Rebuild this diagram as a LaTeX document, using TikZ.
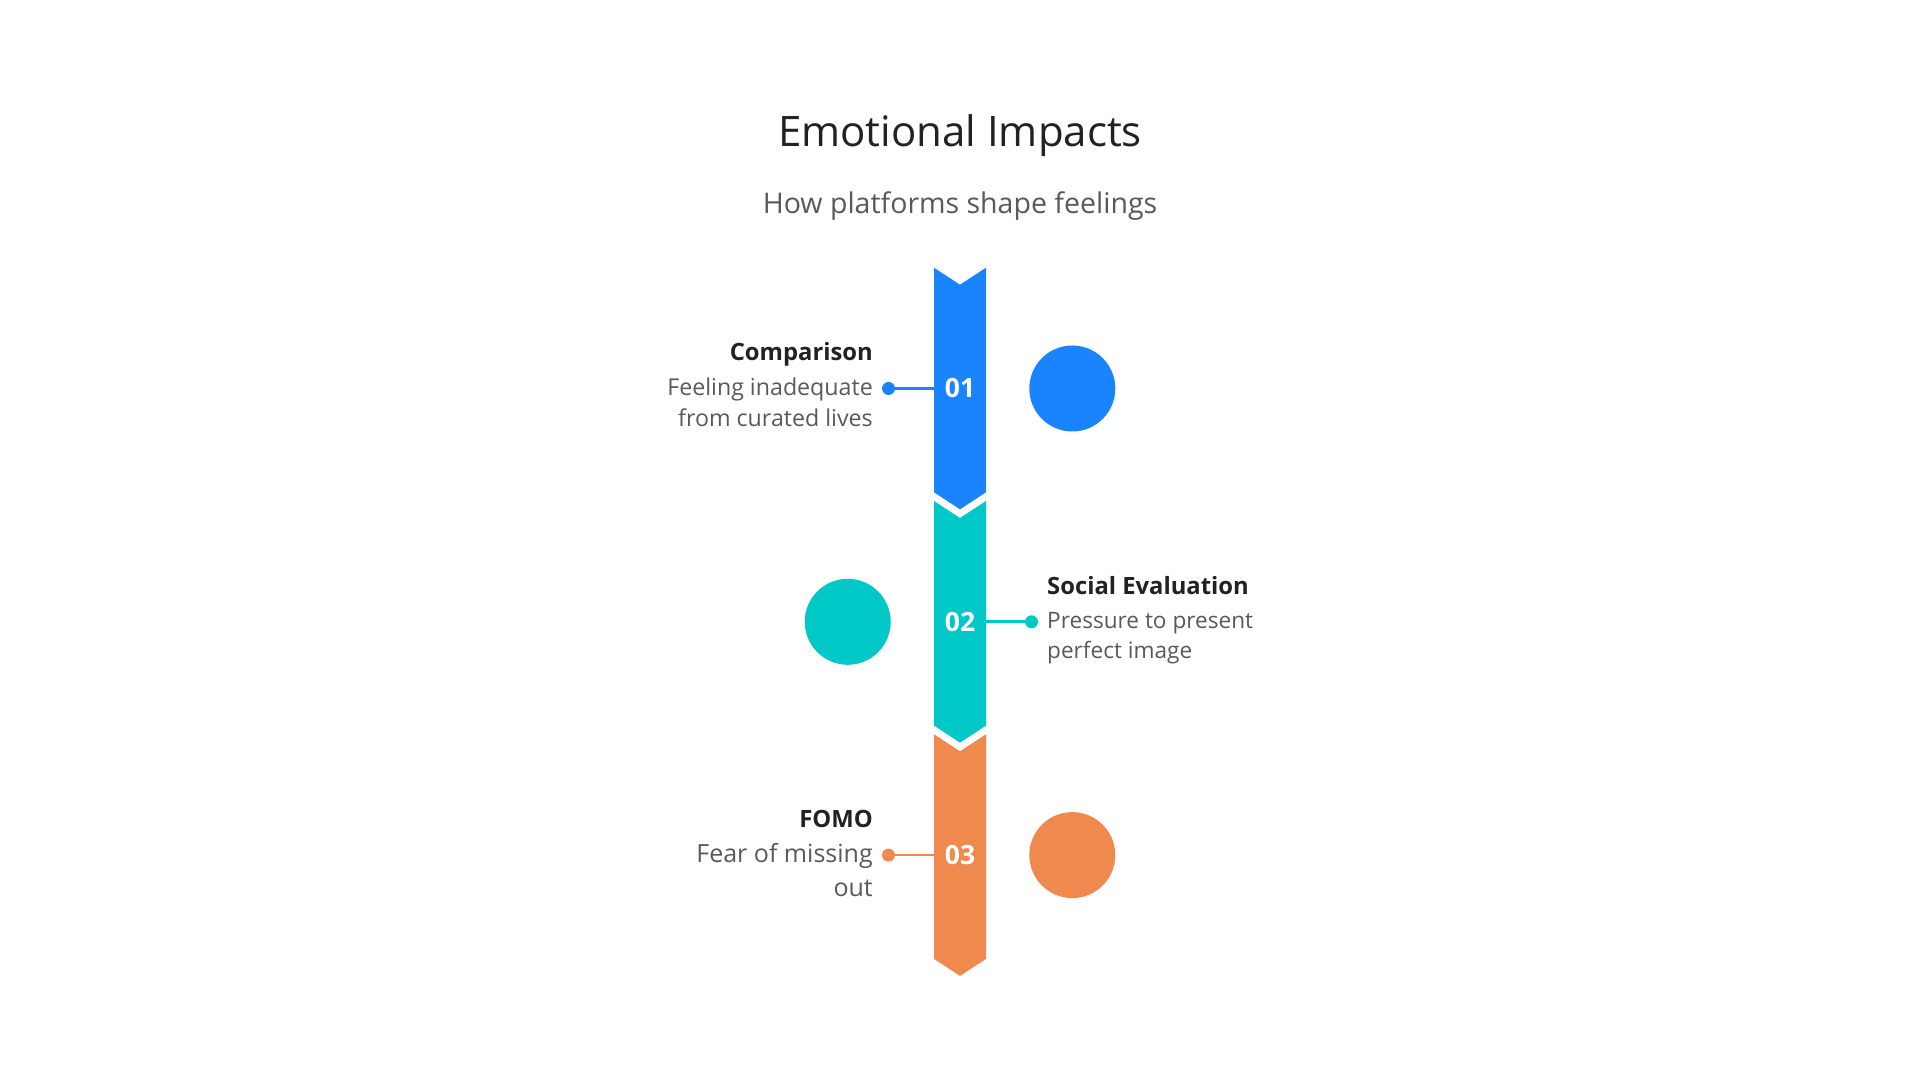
\documentclass[tikz,border=0pt]{standalone}
\usepackage{fontspec}
\setmainfont{Open Sans}
\usepackage{tikz}
\definecolor{stepBlue}{HTML}{1A84FF}
\definecolor{stepTeal}{HTML}{00C8C6}
\definecolor{stepOrange}{HTML}{F0894E}
\definecolor{inkDark}{HTML}{222222}
\definecolor{inkGray}{HTML}{595959}
\newcommand{\barX}{960}
\newcommand{\barHalfWidth}{26}
\newcommand{\barHalfLength}{120.8}
\newcommand{\notchDepth}{17}
\newcommand{\segPitch}{233.3}
\newcommand{\firstCenter}{691.5}
\newcommand{\dotOffset}{71.5}
\newcommand{\textOffset}{87}
\newcommand{\blobOffset}{112.3}
\newcommand{\titleBase}{27.5}
\newcommand{\textBase}{7}

\begin{document}
\begin{tikzpicture}[x=1pt,y=1pt,
	headline/.style={text=inkDark, inner sep=0pt, font=\fontsize{42}{46}\selectfont},
	subline/.style={text=inkGray, inner sep=0pt, font=\fontsize{28.5}{32}\selectfont},
	itemtitle/.style={text=inkDark, inner sep=0pt, font=\bfseries\fontsize{23.8}{28}\selectfont},
	itemtext/.style={text=inkGray, inner sep=0pt},
	segnum/.style={text=white, inner sep=0pt, minimum width=52pt, font=\bfseries\fontsize{26.5}{30}\selectfont},
	pin/.style={circle, inner sep=0pt, minimum size=13pt},
	blob/.style={circle, inner sep=0pt, minimum size=86pt},
	link/.style={line width=2.6pt}]
	\useasboundingbox (0,0) rectangle (1920,1080);
	
	\node[headline, anchor=base] (title) at (\barX,933.3) {Emotional Impacts};
	\node[subline, anchor=base] (subtitle) at (\barX,866) {How platforms shape feelings};
	
	\foreach \idx/\num/\clr/\sd/\segSide/\txtAnchor/\ttl/\dscA/\dscB/\dscSize/\lineSkip in {
		1/01/stepBlue/-1/west/east/Comparison/Feeling inadequate/from curated lives/23.2/31,
		2/02/stepTeal/1/east/west/Social Evaluation/Pressure to present/perfect image/22.6/30,
		3/03/stepOrange/-1/west/east/FOMO/Fear of missing/out/25/34}
	{
		\pgfmathsetmacro{\cy}{\firstCenter-(\idx-1)*\segPitch}
		\pgfmathsetmacro{\dotX}{\barX+\sd*\dotOffset}
		\pgfmathsetmacro{\blobX}{\barX-\sd*\blobOffset}
		\pgfmathsetmacro{\txtX}{\barX+\sd*\textOffset}
		% chevron segment of the bar
		\fill[\clr] (\barX-\barHalfWidth,\cy+\barHalfLength) -- (\barX,\cy+\barHalfLength-\notchDepth) -- (\barX+\barHalfWidth,\cy+\barHalfLength) -- (\barX+\barHalfWidth,\cy-\barHalfLength+\notchDepth) -- (\barX,\cy-\barHalfLength) -- (\barX-\barHalfWidth,\cy-\barHalfLength+\notchDepth) -- cycle;
		\node[segnum] (seg\idx) at (\barX,\cy) {\num};
		\node[pin, fill=\clr] (dot\idx) at (\dotX,\cy) {};
		\draw[link, draw=\clr] (seg\idx.\segSide) -- (dot\idx);
		\node[blob, fill=\clr] (blob\idx) at (\blobX,\cy) {};
		\node[itemtitle, anchor=base \txtAnchor] (ttl\idx) at (\txtX,\cy+\titleBase) {\ttl};
		\node[itemtext, font=\fontsize{\dscSize}{\lineSkip}\selectfont, anchor=base \txtAnchor] (dsca\idx) at (\txtX,\cy-\textBase) {\dscA};
		\node[itemtext, font=\fontsize{\dscSize}{\lineSkip}\selectfont, anchor=base \txtAnchor] (dscb\idx) at (\txtX,\cy-\textBase-\lineSkip) {\dscB};
	}
\end{tikzpicture}
\end{document}
